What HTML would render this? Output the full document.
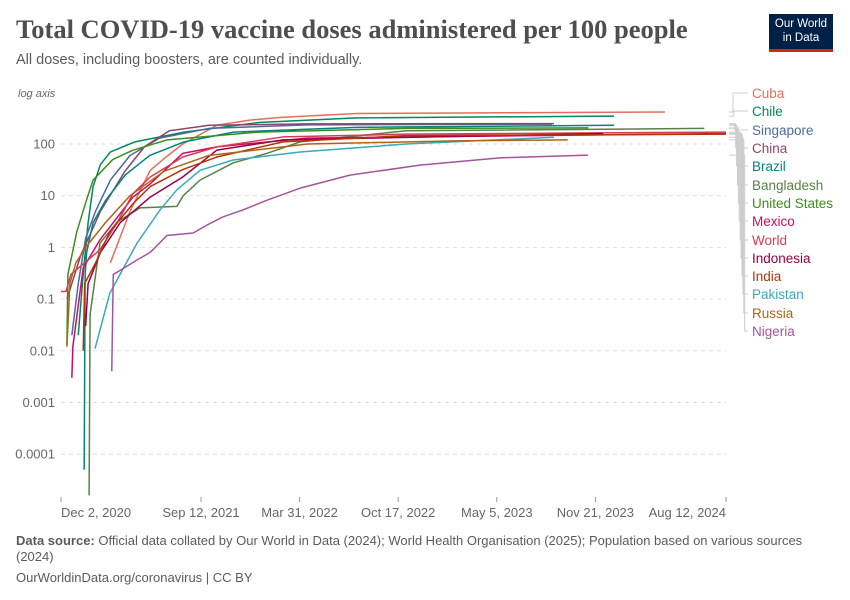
<!DOCTYPE html>
<html><head><meta charset="utf-8"><style>
body{margin:0;background:#fff;font-family:"Liberation Sans",sans-serif}
#wrap{position:relative;width:850px;height:600px;overflow:hidden}
.t{position:absolute;white-space:nowrap}
</style></head><body>
<div id="wrap">
<div class="t" style="left:16px;top:14px;font-family:'Liberation Serif',serif;font-size:26.5px;font-weight:bold;color:#4e4e4e">Total COVID-19 vaccine doses administered per 100 people</div>
<div class="t" style="left:16px;top:52px;font-size:14.5px;color:#5b5b5b">All doses, including boosters, are counted individually.</div>
<div style="position:absolute;left:769px;top:14px;width:64px;height:38px;background:#002147;border-bottom:3px solid #ce261e;color:#fff;font-size:11.5px;line-height:14px;text-align:center;padding-top:3px;box-sizing:border-box">Our World<br>in Data</div>
<svg id="chart" width="850" height="600" style="position:absolute;left:0;top:0"></svg>
<div class="t" style="left:16px;top:533px;font-size:13px;color:#5b5b5b;line-height:16px;white-space:normal;width:800px"><b>Data source:</b> Official data collated by Our World in Data (2024); World Health Organisation (2025); Population based on various sources (2024)</div>
<div class="t" style="left:16px;top:570px;font-size:13px;color:#5b5b5b">OurWorldinData.org/coronavirus | CC BY</div>
</div>
<script>
const yTicks=[100,10,1,0.1,0.01,0.001,0.0001];
const yTickLabels=["100","10","1","0.1","0.01","0.001","0.0001"];
const xTickDays=[0,284,484,684,884,1084,1349];
const xTickLabels=["Dec 2, 2020","Sep 12, 2021","Mar 31, 2022","Oct 17, 2022","May 5, 2023","Nov 21, 2023","Aug 12, 2024"];
const seriesNames=["Cuba","Chile","Singapore","China","Brazil","Bangladesh","United States","Mexico","World","Indonesia","India","Pakistan","Russia","Nigeria"];
const seriesColors=["#e56e5a","#00875e","#4c6a9c","#8c4569","#00847e","#578145","#3b8e1d","#cf0a66","#d73c50","#970046","#b13507","#38aaba","#b16214","#a2559c"];
const cuba=[[100,0.5],[140,5],[181,31],[215,58],[247,100],[316,230],[383,290],[450,330],[600,390],[1225,417]];
const chile=[[35,0.02],[45,0.3],[55,3],[65,15],[80,40],[100,70],[150,110],[250,170],[400,260],[600,320],[1122,347]];
const singapore=[[22,0.02],[35,0.2],[50,1.5],[70,5],[100,20],[140,60],[200,130],[300,200],[500,235],[996,243]];
const china=[[12,0.1],[40,0.7],[80,5],[130,30],[170,90],[220,180],[300,230],[500,245],[1000,248]];
const brazil=[[47,0.00005],[49,0.3],[52,0.8],[65,3],[90,8],[130,25],[180,60],[250,110],[350,170],[600,210],[1122,230]];
const bangladesh=[[57,0.000016],[59,0.05],[79,1.2],[114,3.1],[160,5.8],[235,6.2],[248,10],[282,20],[349,43],[418,66],[485,110],[700,180],[1305,200]];
const unitedStates=[[12,0.013],[14,0.3],[32,2],[53,9],[65,20],[105,50],[146,76],[215,120],[400,170],[700,200],[1070,205]];
const mexico=[[22,0.003],[24,0.012],[45,0.4],[79,1.4],[146,9.4],[181,17],[247,66],[316,88],[500,130],[1349,160]];
const world=[[0,0.14],[10,0.14],[20,0.3],[79,0.9],[114,3],[146,11],[181,23],[247,56],[316,88],[450,137],[700,155],[1349,170]];
const indonesia=[[50,0.03],[55,0.2],[80,0.8],[120,3],[181,9.4],[247,23],[316,76],[450,120],[1100,160]];
const india=[[45,0.01],[48,0.2],[70,0.5],[99,2],[146,7],[181,15],[247,32],[316,56],[450,110],[700,145],[1349,155]];
const pakistan=[[69,0.011],[99,0.13],[154,1.2],[201,5.3],[235,13],[282,31],[349,49],[485,70],[700,100],[1000,135]];
const russia=[[12,0.012],[18,0.2],[30,0.5],[50,1],[90,3],[140,10],[210,30],[300,60],[500,100],[800,115],[1028,120]];
const nigeria=[[103,0.004],[106,0.3],[120,0.36],[154,0.57],[181,0.8],[215,1.7],[268,1.9],[296,2.7],[329,3.9],[369,5.3],[418,8.2],[485,14],[586,25],[728,39],[890,54],[1069,61]];
const seriesData=[cuba,chile,singapore,china,brazil,bangladesh,unitedStates,mexico,world,indonesia,india,pakistan,russia,nigeria];
const labelY=[93,111,130,148,166,185,203,221,240,258,276,294,313,331];

const NS="http://www.w3.org/2000/svg",svg=document.getElementById('chart');
const X0=61,X1=726,DMAX=1349;
const xs=d=>X0+d/DMAX*(X1-X0);
const ys=v=>144+(2-Math.log10(v))*51.7;
function mk(tag,at){const e=document.createElementNS(NS,tag);for(const k in at)e.setAttribute(k,at[k]);svg.appendChild(e);return e;}
const ax=mk('text',{x:18,y:97,'font-size':11,'font-style':'italic',fill:'#666'});ax.textContent='log axis';


yTicks.forEach((v,i)=>{
 const g=mk('line',{x1:X0,x2:X1,y1:ys(v),y2:ys(v),stroke:'#ddd','stroke-dasharray':'4,4'});
 
 
 const t=mk('text',{x:55,y:ys(v)+4.5,'text-anchor':'end','font-size':13,fill:'#666'});t.textContent=yTickLabels[i];
 
 
});
xTickDays.forEach((d,i)=>{
 const tk=mk('line',{x1:xs(d),x2:xs(d),y1:497,y2:502,stroke:'#999'});
 
 
 const anc=i==0?'start':(i==xTickDays.length-1?'end':'middle');
 const t=mk('text',{x:xs(d),y:517,'text-anchor':anc,'font-size':13,fill:'#666'});t.textContent=xTickLabels[i];
 
 
});
seriesData.forEach((s,i)=>{
 const p=mk('polyline',{points:s.map(q=>xs(q[0])+','+ys(q[1])).join(' '),fill:'none',stroke:seriesColors[i],'stroke-width':1.5,'stroke-linejoin':'round'});
 
 
 const last=s[s.length-1],ey=ys(last[1]),bx=733+i*0.9;
 const c=mk('polyline',{points:`${X1+3},${ey} ${bx},${ey} ${bx},${labelY[i]} ${748},${labelY[i]}`,fill:'none',stroke:'#ccc','stroke-width':1});
 
 
 const t=mk('text',{x:752,y:labelY[i]+5,'font-size':13.5,fill:seriesColors[i]});t.textContent=seriesNames[i];
 
 
});
</script>
</body></html>
